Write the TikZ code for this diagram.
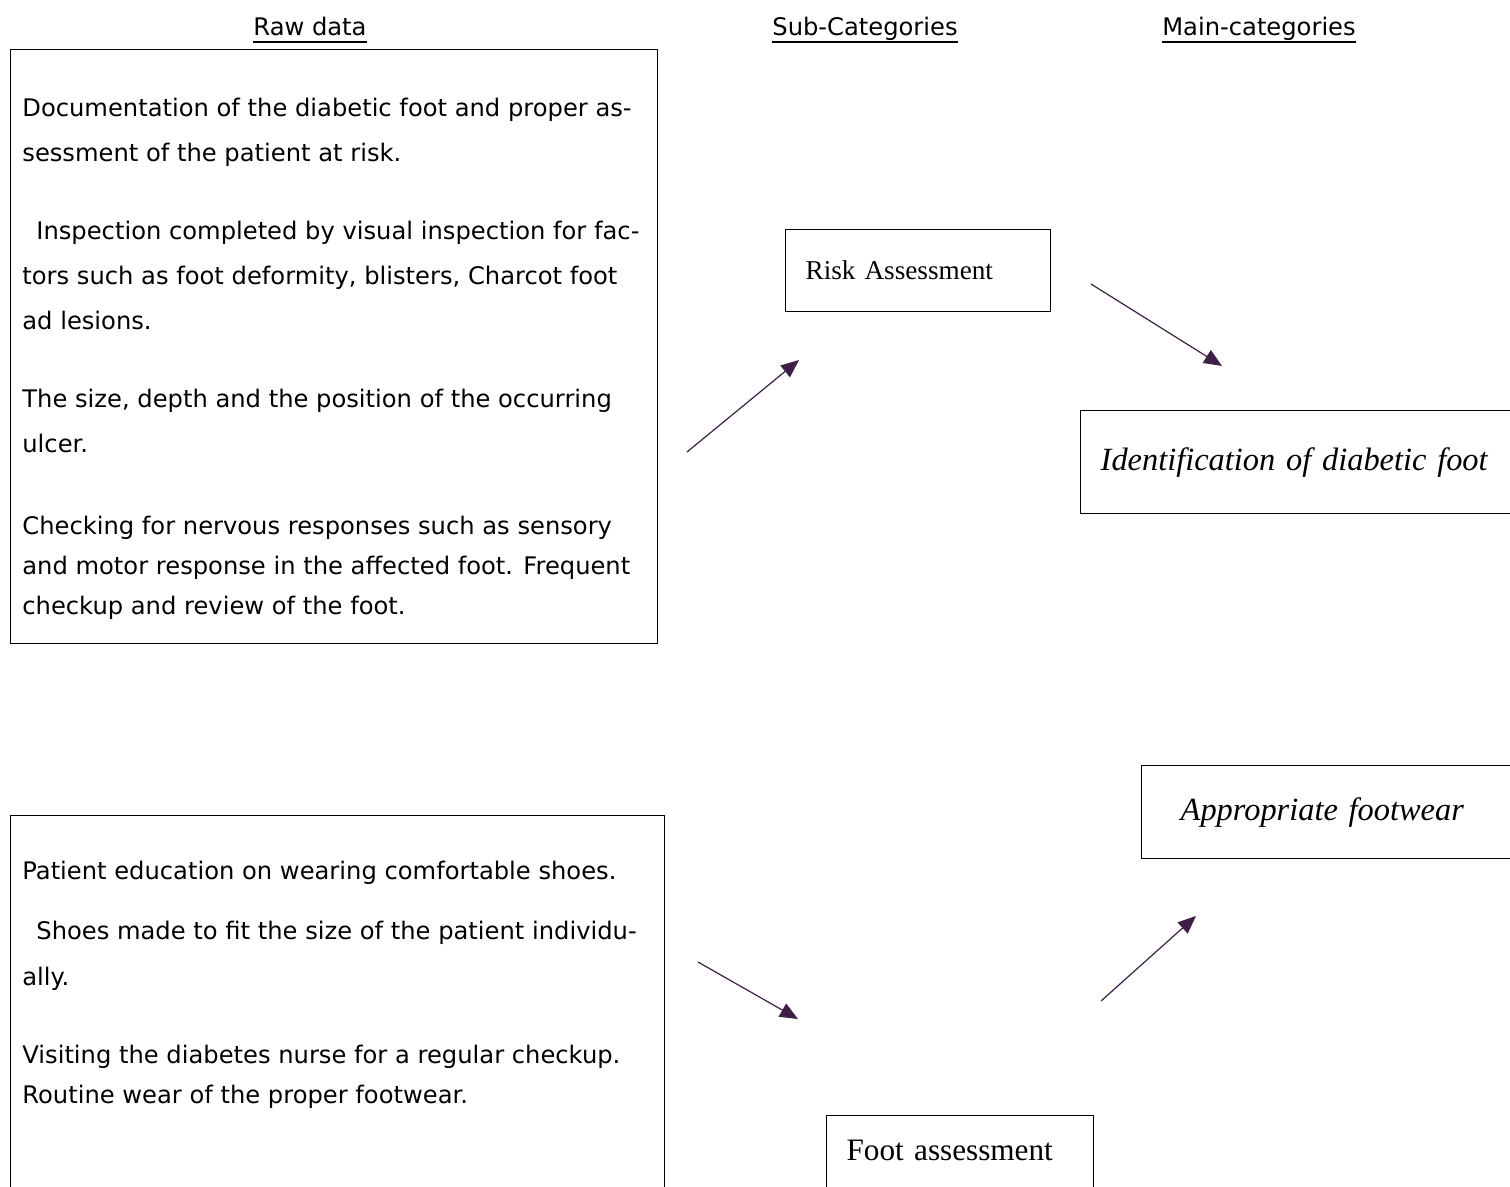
\documentclass[tikz,border=0pt]{standalone}
\usepackage{fontspec}
\usetikzlibrary{arrows.meta}
\newfontfamily\rawfont{DejaVu Sans}
\newfontfamily\subfont{Liberation Serif}
\definecolor{arrowpurple}{HTML}{3E1F47}

\begin{document}
\begin{tikzpicture}[x=0.5pt, y=-0.5pt,
    heading/.style={anchor=base, inner sep=0pt, font=\rawfont\fontsize{12.1}{14}\selectfont},
    rawbox/.style={draw, line width=0.6pt, inner sep=0pt, anchor=north west},
    rawtext/.style={anchor=north west, inner sep=0pt, align=left, font=\rawfont\fontsize{12.1}{20}\selectfont},
    subbox/.style={draw, line width=0.6pt, anchor=north west, inner xsep=10pt, align=left, font=\subfont\fontsize{13.6}{16}\selectfont},
    mainbox/.style={draw, line width=0.7pt, anchor=north west, align=left, font=\subfont\itshape\fontsize{16.2}{19}\selectfont},
    flow/.style={-{Triangle[length=9pt, width=7.5pt]}, arrowpurple, line width=0.6pt}]

    % Page
    \fill[white] (0, 0) rectangle (1510, 1187);
    \useasboundingbox (0, 0) rectangle (1510, 1187);
    \clip (0, 0) rectangle (1510, 1187);

    % Headings
    \node[heading] (hRaw) at (310, 36) {Raw data};
    \node[heading] (hSub) at (865, 36) {Sub-Categories};
    \node[heading] (hMain) at (1259, 36) {Main-categories};
    \foreach \h in {hRaw, hSub, hMain}
        \draw[line width=1pt] ([yshift=-2.8pt]\h.base west) -- ([yshift=-2.8pt]\h.base east);

    % Raw data boxes
    \node[rawbox, minimum width=323.5pt, minimum height=297pt] (rawRisk) at (10, 49) {};
    \node[rawtext] (rawRiskText) at (22, 98) {%
        Documentation of the diabetic foot and proper as-\\[2.5pt]
        sessment of the patient at risk.\\[19pt]
        \hspace*{7pt}Inspection completed by visual inspection for fac-\\[2.5pt]
        tors such as foot deformity, blisters, Charcot foot\\[2.5pt]
        ad lesions.\\[19pt]
        The size, depth and the position of the occurring\\[2.5pt]
        ulcer.\\[21pt]
        Checking for nervous responses such as sensory\\
        and motor response in the affected foot. Frequent\\
        checkup and review of the foot.};

    \node[rawbox, minimum width=327pt, minimum height=200pt] (rawFoot) at (10, 815) {};
    \node[rawtext] (rawFootText) at (22, 861) {%
        Patient education on wearing comfortable shoes.\\[10pt]
        \hspace*{7pt}Shoes made to fit the size of the patient individu-\\[3pt]
        ally.\\[19pt]
        Visiting the diabetes nurse for a regular checkup.\\
        Routine wear of the proper footwear.};

    % Sub-categories
    \node[subbox, text width=112.5pt, minimum height=41pt] (subRisk) at (785, 229) {Risk Assessment};
    \node[subbox, text width=113.5pt, inner ysep=12pt, font=\subfont\fontsize{15.6}{18}\selectfont] (subFoot) at (826, 1115)
        {Foot assessment\rule[-40pt]{0pt}{40pt}};

    % Main categories
    \node[mainbox, inner xsep=10pt, text width=205pt, minimum height=51.5pt] (mainIdent) at (1080, 410) {Identification of diabetic foot};
    \node[mainbox, inner xsep=19.5pt, text width=161pt, minimum height=46.5pt] (mainShoe) at (1141, 765) {Appropriate footwear};

    % Arrows
    \coordinate (riskFrom) at (687, 452);
    \coordinate (riskTo) at (799, 360);
    \coordinate (identFrom) at (1091, 284);
    \coordinate (identTo) at (1222, 366);
    \coordinate (footFrom) at (698, 962);
    \coordinate (footTo) at (798, 1019);
    \coordinate (shoeFrom) at (1101, 1001);
    \coordinate (shoeTo) at (1196, 916);

    \draw[flow] (riskFrom) -- (riskTo);
    \draw[flow] (identFrom) -- (identTo);
    \draw[flow] (footFrom) -- (footTo);
    \draw[flow] (shoeFrom) -- (shoeTo);

\end{tikzpicture}
\end{document}
